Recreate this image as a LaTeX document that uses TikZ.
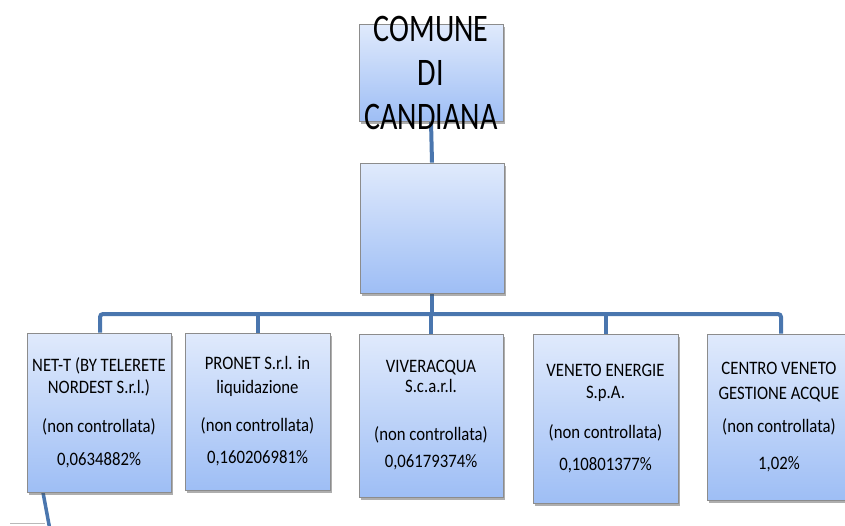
\documentclass[tikz,border=0pt]{standalone}
\usepackage{fontspec}
\setmainfont{Carlito}
\newfontfamily\boxfont[FakeStretch=0.88]{Carlito}
\newfontfamily\topfont[FakeStretch=0.77]{Carlito}
\usetikzlibrary{shadows,backgrounds}
\definecolor{boxtop}{HTML}{E0EAFC}
\definecolor{boxbot}{HTML}{9EBEF5}
\definecolor{connblue}{HTML}{4A76AE}
\definecolor{boxline}{HTML}{8C8C8C}
\begin{document}
\begin{tikzpicture}[x=1pt,y=-1pt,
  orgbox/.style={draw=boxline, line width=0.8pt, top color=boxtop, bottom color=boxbot,
    inner sep=0pt, align=center, font=\boxfont\fontsize{19}{22}\selectfont,
    drop shadow={shadow xshift=2pt, shadow yshift=-3pt, opacity=0.45, fill=black!70}},
  conn/.style={draw=connblue, line width=4pt},
  toptext/.style={align=center, font=\topfont\fontsize{39}{44}\selectfont, inner sep=0pt}]
\useasboundingbox (0,0) rectangle (845,525);

\node[orgbox, minimum width=144, minimum height=97] (top) at (431,72.5) {};
\node[orgbox, minimum width=144, minimum height=130] (mid) at (432,228) {};

\node[orgbox, minimum width=144, minimum height=159] (b1) at (99,412.5)
  {NET-T (BY TELERETE\\NORDEST S.r.l.)\\[17pt](non controllata)\\[11pt]0,0634882\%};
\node[orgbox, minimum width=145, minimum height=157] (b2) at (257.5,411.5)
  {PRONET S.r.l. in\\[2pt]liquidazione\\[16pt](non controllata)\\[10pt]0,160206981\%};
\node[orgbox, minimum width=144, minimum height=163] (b3) at (431,415.5)
  {VIVERACQUA\\[-2pt]S.c.a.r.l.\\[26pt](non controllata)\\[5pt]0,06179374\%};
\node[orgbox, minimum width=145, minimum height=169] (b4) at (605.5,418.5)
  {VENETO ENERGIE\\S.p.A.\\[18pt](non controllata)\\[10pt]0,10801377\%};
\node[orgbox, minimum width=144, minimum height=166] (b5) at (779,417)
  {CENTRO VENETO\\[3pt]GESTIONE ACQUE\\[11pt](non controllata)\\[15pt]1,02\%};

\coordinate (barY) at (0,314);
\coordinate (stubL) at (10,523);
\coordinate (stubR) at (45,523);
\coordinate (tail) at (50,530);

\begin{scope}[on background layer]
\draw[conn] (top.south) -- (mid.north);
\draw[conn] (mid.south) -- (mid.south |- barY);
\draw[conn, rounded corners=3pt] ([xshift=1pt]b1.north) -- ([xshift=1pt]b1.north |- barY)
  -- ([xshift=2pt]b5.north |- barY) -- ([xshift=2pt]b5.north);
\draw[conn] (b2.north |- barY) -- (b2.north);
\draw[conn] (b3.north |- barY) -- (b3.north);
\draw[conn] (b4.north |- barY) -- (b4.north);
\draw[gray!55, line width=0.8pt] (stubL) -- (stubR);
\draw[conn, line width=3.5pt] ([xshift=-56pt]b1.south) -- (tail);
\end{scope}

\node[toptext] (toplabel) at (431,73) {COMUNE\\DI\\CANDIANA};
\end{tikzpicture}
\end{document}
